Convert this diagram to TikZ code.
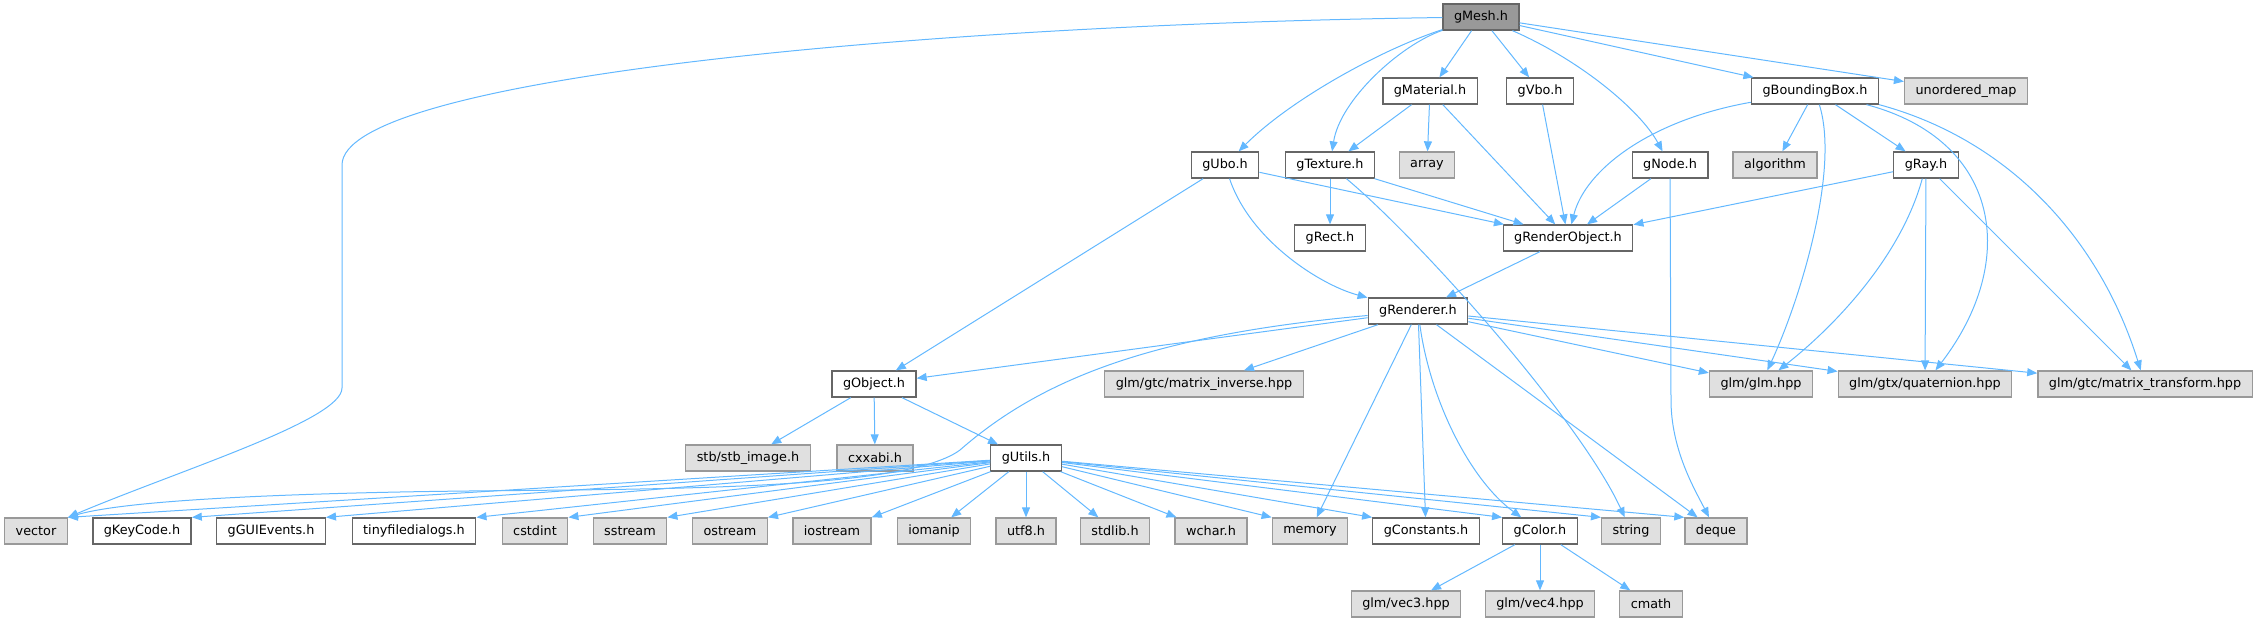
\documentclass[tikz,border=0pt]{standalone}
\usepackage{fontspec}
\setmainfont{DejaVu Sans}
\usepackage{tikz}
\usetikzlibrary{arrows.meta}
\definecolor{edgeblue}{HTML}{63B8FF}
\definecolor{sysfill}{HTML}{E0E0E0}
\definecolor{sysline}{HTML}{999999}
\definecolor{hdrline}{HTML}{666666}
\tikzset{
	box/.style={line width=1.3pt, minimum height=26pt, inner xsep=11pt, inner ysep=0pt, font=\fontsize{12.8}{15}\selectfont},
	hdr/.style={box, draw=hdrline, fill=white},
	sys/.style={box, draw=sysline, fill=sysfill},
	main/.style={box, draw=hdrline, fill=sysline},
	dep/.style={draw=edgeblue, line width=1pt, -{Triangle[length=10pt, width=8pt]}}
}

\begin{document}
\begin{tikzpicture}[x=1pt, y=-1pt]
	\useasboundingbox (0, 0) rectangle (2259, 623);
	\node[main] (gMesh) at (1481, 17) {gMesh.h};
	\foreach \n/\x/\y/\t in {gMaterial/1430/91/gMaterial.h, gVbo/1540/91/gVbo.h, gBoundingBox/1815/91/gBoundingBox.h, gUbo/1225/165/gUbo.h, gTexture/1330/165/gTexture.h, gNode/1670/165/gNode.h, gRay/1926/165/gRay.h, gRect/1330/238/gRect.h, gRenderObject/1568/238/gRenderObject.h, gRenderer/1418/311/gRenderer.h, gObject/874/384/gObject.h, gUtils/1026/458/gUtils.h, gKeyCode/142/531/gKeyCode.h, gGUIEvents/271/531/gGUIEvents.h, tinyfiledialogs/414/531/tinyfiledialogs.h, gConstants/1426/531/gConstants.h, gColor/1540/531/gColor.h}
		\node[hdr] (\n) at (\x, \y) {\t};
	\foreach \n/\x/\y/\t in {unorderedmap/1966/91/unordered\_map, array/1427/165/array, algorithm/1775/165/algorithm, matinverse/1204/384/{glm/gtc/matrix\_inverse.hpp}, glm/1761/384/{glm/glm.hpp}, quaternion/1925/384/{glm/gtx/quaternion.hpp}, mattransform/2145/384/{glm/gtc/matrix\_transform.hpp}, stbimage/748/458/{stb/stb\_image.h}, cxxabi/875/458/cxxabi.h, vector/36/531/vector, cstdint/535/531/cstdint, sstream/630/531/sstream, ostream/730/531/ostream, iostream/832/531/iostream, iomanip/934/531/iomanip, utf8/1026/531/utf8.h, stdlib/1115/531/stdlib.h, wchar/1211/531/wchar.h, memory/1310/531/memory, string/1631/531/string, deque/1716/531/deque, vecthree/1406/604/{glm/vec3.hpp}, vecfour/1540/604/{glm/vec4.hpp}, cmath/1651/604/cmath}
		\node[sys] (\n) at (\x, \y) {\t};
	\foreach \a/\b in {gMesh/gMaterial, gMesh/gVbo, gMesh/gBoundingBox, gMesh/unorderedmap, gMaterial/gTexture, gMaterial/array, gMaterial/gRenderObject, gVbo/gRenderObject, gNode/gRenderObject, gBoundingBox/algorithm, gBoundingBox/gRay, gUbo/gRenderObject, gUbo/gObject, gTexture/gRect, gTexture/gRenderObject, gRay/gRenderObject, gRay/quaternion, gRay/mattransform, gRenderObject/gRenderer, gRenderer/gObject, gRenderer/matinverse, gRenderer/memory, gRenderer/gConstants, gRenderer/deque, gRenderer/glm, gRenderer/quaternion, gRenderer/mattransform, gObject/stbimage, gObject/cxxabi, gObject/gUtils, gUtils/iomanip, gUtils/utf8, gUtils/stdlib, gUtils/wchar, gColor/vecthree, gColor/vecfour, gColor/cmath}
		\draw[dep] (\a) -- (\b);
	\foreach \b in {vector, gKeyCode, gGUIEvents, tinyfiledialogs, cstdint, sstream, ostream, iostream}
		\draw[dep] (gUtils) -- (\b.north east);
	\foreach \b in {memory, gConstants, gColor, string, deque}
		\draw[dep] (gUtils) -- (\b.north west);
	\draw[dep] (gMesh) .. controls (900, 25) and (342, 80) .. (342, 165) -- (342, 388) .. controls (342, 420) and (180, 470) .. (vector.north east);
	\draw[dep] (gMesh) .. controls (1380, 50) and (1290, 100) .. (gUbo);
	\draw[dep] (gMesh) .. controls (1400, 45) and (1340, 100) .. (gTexture);
	\draw[dep] (gMesh) .. controls (1580, 60) and (1640, 110) .. (gNode);
	\draw[dep] (gNode) -- (1671, 400) .. controls (1671, 450) and (1695, 490) .. (deque);
	\draw[dep] (gBoundingBox) .. controls (1650, 120) and (1585, 170) .. (gRenderObject);
	\draw[dep] (gBoundingBox) .. controls (1840, 170) and (1800, 300) .. (glm);
	\draw[dep] (gBoundingBox) .. controls (2000, 140) and (2020, 260) .. (quaternion);
	\draw[dep] (gBoundingBox.south east) .. controls (2010, 140) and (2100, 240) .. (mattransform);
	\draw[dep] (gUbo) .. controls (1250, 240) and (1320, 285) .. (gRenderer);
	\draw[dep] (gTexture) .. controls (1420, 240) and (1580, 420) .. (string);
	\draw[dep] (gRay) .. controls (1900, 260) and (1830, 330) .. (glm);
	\draw[dep] (gRenderer) .. controls (1150, 335) and (1040, 380) .. (960, 450) .. controls (900, 495) and (600, 488) .. (400, 492) .. controls (200, 496) and (110, 505) .. (vector.north east);
	\draw[dep] (gRenderer) .. controls (1430, 400) and (1470, 480) .. (gColor);
\end{tikzpicture}
\end{document}
